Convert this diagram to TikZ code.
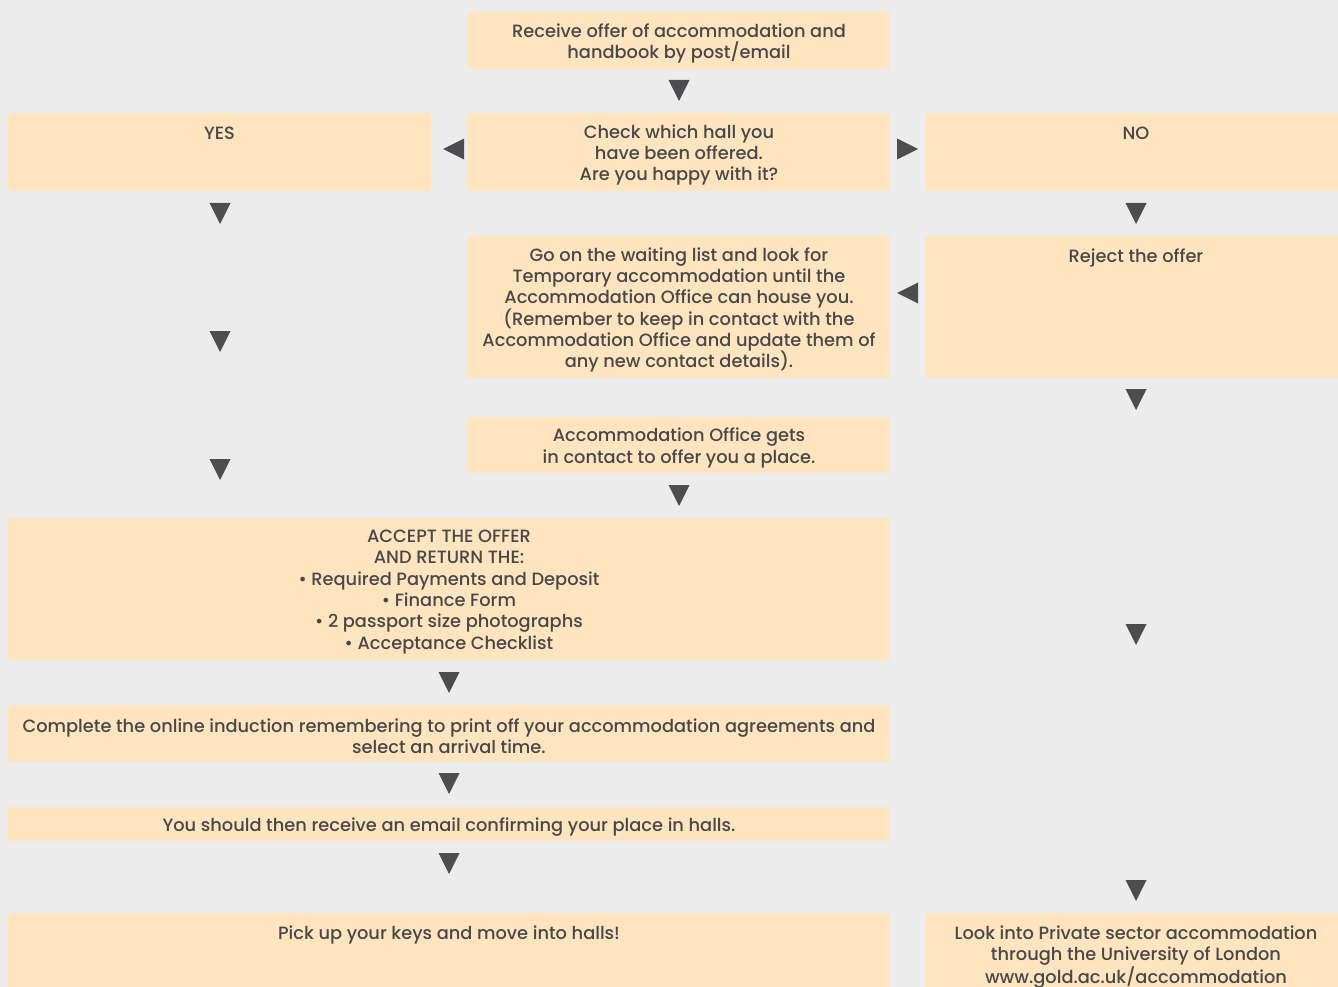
\documentclass[tikz,border=0pt]{standalone}
\usepackage{fontspec}
\setmainfont{Poppins Medium}
\definecolor{bgc}{HTML}{ECECEC}
\definecolor{boxc}{HTML}{FFE5BF}
\definecolor{txtc}{HTML}{48484A}
\definecolor{tric}{HTML}{4D4D4F}
\tikzset{
  box/.style={fill=boxc, draw=none, inner sep=0pt},
  lbl/.style={inner sep=0pt, align=center, text=txtc,
    font=\fontsize{17.8}{21.3}\selectfont},
  toplbl/.style={lbl, anchor=north},
  tri/.style={fill=tric}
}
\newcommand\tridown[2]{\fill[tri] (#1-10.5,#2-10.5) -- (#1+10.5,#2-10.5) -- (#1,#2+10.5) -- cycle;}
\newcommand\trileft[2]{\fill[tri] (#1+10.5,#2-10.5) -- (#1+10.5,#2+10.5) -- (#1-10.5,#2) -- cycle;}
\newcommand\triright[2]{\fill[tri] (#1-10.5,#2-10.5) -- (#1-10.5,#2+10.5) -- (#1+10.5,#2) -- cycle;}
\begin{document}
\begin{tikzpicture}[x=1pt,y=-1pt]
\fill[bgc] (0,0) rectangle (1338,987);
\useasboundingbox (0,0) rectangle (1338,987);
% boxes
\node[box, minimum width=422pt, minimum height=57pt] (b1) at (679,40.5) {};
\node[lbl] (t1) at ([yshift=-3pt]b1.center)
  {Receive offer of accommodation and\\handbook by post/email};
\node[box, minimum width=423pt, minimum height=78pt] (yes) at (219.5,152) {};
\node[toplbl] (tyes) at ([yshift=-13.5pt]yes.north) {YES};
\node[box, minimum width=422pt, minimum height=78pt] (check) at (679,152) {};
\node[lbl] (tcheck) at ([yshift=-3pt]check.center)
  {Check which hall you\\have been offered.\\Are you happy with it?};
\node[box, minimum width=422pt, minimum height=78pt] (no) at (1136,152) {};
\node[toplbl] (tno) at ([yshift=-13.5pt]no.north) {NO};
\node[box, minimum width=422pt, minimum height=142pt] (wait) at (679,307) {};
\node[lbl] (twait) at ([yshift=-3pt]wait.center)
  {Go on the waiting list and look for\\Temporary accommodation until the\\Accommodation Office can house you.\\(Remember to keep in contact with the\\Accommodation Office and update them of\\any new contact details).};
\node[box, minimum width=422pt, minimum height=142pt] (reject) at (1136,307) {};
\node[toplbl] (treject) at ([yshift=-12.5pt]reject.north) {Reject the offer};
\node[box, minimum width=422pt, minimum height=56pt] (office) at (679,445) {};
\node[lbl] (toffice) at ([yshift=-3pt]office.center)
  {Accommodation Office gets\\in contact to offer you a place.};
\node[box, minimum width=882pt, minimum height=142pt] (accept) at (449,589) {};
\node[lbl] (taccept) at ([yshift=-3pt]accept.center)
  {ACCEPT THE OFFER\\AND RETURN THE:\\• Required Payments and Deposit\\• Finance Form\\• 2 passport size photographs\\• Acceptance Checklist};
\node[box, minimum width=882pt, minimum height=57pt] (induct) at (449,733.5) {};
\node[lbl] (tinduct) at ([yshift=-3pt]induct.center)
  {Complete the online induction remembering to print off your accommodation agreements and\\select an arrival time.};
\node[box, minimum width=882pt, minimum height=34pt] (email) at (449,824) {};
\node[lbl] (temail) at ([yshift=-3pt]email.center)
  {You should then receive an email confirming your place in halls.};
\node[box, minimum width=882pt, minimum height=74pt] (keys) at (449,950) {};
\node[toplbl] (tkeys) at ([yshift=-12.5pt]keys.north) {Pick up your keys and move into halls!};
\node[box, minimum width=422pt, minimum height=74pt] (priv) at (1136,950) {};
\node[toplbl] (tpriv) at ([yshift=-12.5pt]priv.north) {Look into Private sector accommodation\\through the University of London\\www.gold.ac.uk/accommodation};
% triangles
\tridown{679}{90.5}
\trileft{453.5}{149}
\triright{907.5}{149}
\tridown{220}{213.5}
\tridown{1136}{213.5}
\trileft{907.5}{293}
\tridown{220}{341.5}
\tridown{1136}{399.5}
\tridown{220}{469.5}
\tridown{679}{495.5}
\tridown{1136}{634.5}
\tridown{449}{682.5}
\tridown{449}{783.5}
\tridown{449}{863.5}
\tridown{1136}{890.5}
\end{tikzpicture}
\end{document}
